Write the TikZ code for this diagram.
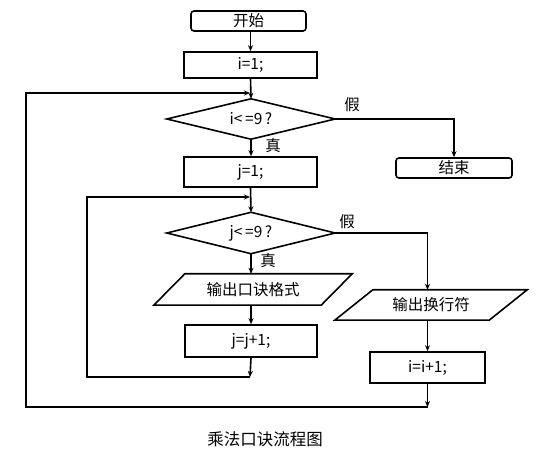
\documentclass[tikz,border=0pt]{standalone}
\usepackage{fontspec}
\setmainfont{Noto Sans CJK SC}
\usetikzlibrary{calc,arrows.meta}
\begin{document}
\begin{tikzpicture}[x=1pt,y=-1pt,
  every node/.style={font=\fontsize{15.5}{17}\selectfont, inner sep=0pt},
  box/.style={draw, line width=1.6pt},
  rbox/.style={draw, line width=1.6pt, rounded corners=3pt},
  shapeline/.style={line width=1.6pt},
  arr/.style={line width=1.6pt, -{Stealth[length=6pt,width=5pt]}},
  lbl/.style={font=\fontsize{15.5}{17}\selectfont}]
\useasboundingbox (0,0) rectangle (552,470);
% nodes
\node[rbox, minimum width=115, minimum height=20] (start) at (248.5,21) {开始};
\node[box, minimum width=133, minimum height=26] (i1) at (250.5,65) {i=1;};
\node[minimum width=168, minimum height=40] (d1) at (251,119) {i<\,=9\,?};
\draw[shapeline] (d1.west) -- (d1.north) -- (d1.east) -- (d1.south) -- cycle;
\node[box, minimum width=133, minimum height=30] (j1) at (250.5,172) {j=1;};
\node[minimum width=168, minimum height=41] (d2) at (251,233) {j<\,=9\,?};
\draw[shapeline] (d2.west) -- (d2.north) -- (d2.east) -- (d2.south) -- cycle;
\node[minimum width=198, minimum height=31] (out1) at (253,289.5) {输出口诀格式};
\draw[shapeline] ($(out1.north west)+(31,0)$) -- (out1.north east) -- ($(out1.south east)-(31,0)$) -- (out1.south west) -- cycle;
\node[box, minimum width=132, minimum height=32] (jj) at (251,341) {j=j+1;};
\node[rbox, minimum width=116, minimum height=20] (end) at (454,168) {结束};
\node[minimum width=192, minimum height=30] (out2) at (431,305) {输出换行符};
\draw[shapeline] ($(out2.north west)+(38,0)$) -- (out2.north east) -- ($(out2.south east)-(38,0)$) -- (out2.south west) -- cycle;
\node[box, minimum width=115, minimum height=31] (ii) at (427.5,367.5) {i=i+1;};
\node[font=\fontsize{16.5}{18}\selectfont] (cap) at (265,439) {乘法口诀流程图};
% coordinates
\coordinate (c1) at (250,377);
\coordinate (c2) at (250,197);
\coordinate (c3) at (427.5,407);
\coordinate (c4) at (250,93);
\coordinate (e1) at (454,119);
\coordinate (e2) at (427.5,233);
% labels
\node[lbl] (t1) at (273,146) {真};
\node[lbl] (f1) at (352,105) {假};
\node[lbl] (t2) at (268,261) {真};
\node[lbl] (f2) at (347,222) {假};
% connectors
\draw[arr] (start.south -| i1.north) -- (i1.north);
\draw[arr] (i1.south) -- (d1.north);
\draw[arr] (d1.south) -- (d1.south |- j1.north);
\draw[arr] (d1.east) -- (e1) -- (end.north);
\draw[arr] (j1.south) -- (d2.north);
\draw[arr] (d2.south) -- (d2.south |- out1.north);
\draw[arr] (d2.south |- out1.south) -- (d2.south |- jj.north);
\draw[arr] (d2.south |- jj.south) -- (c1);
\draw[arr] (c1) -- (87,377) -- (87,197) -- (c2);
\draw[arr] (d2.east) -- (e2) -- (e2 |- out2.north);
\draw[arr] (e2 |- out2.south) -- (ii.north);
\draw[arr] (ii.south) -- (c3);
\draw[arr] (c3) -- (26,407) -- (26,93) -- (c4);
\end{tikzpicture}
\end{document}
